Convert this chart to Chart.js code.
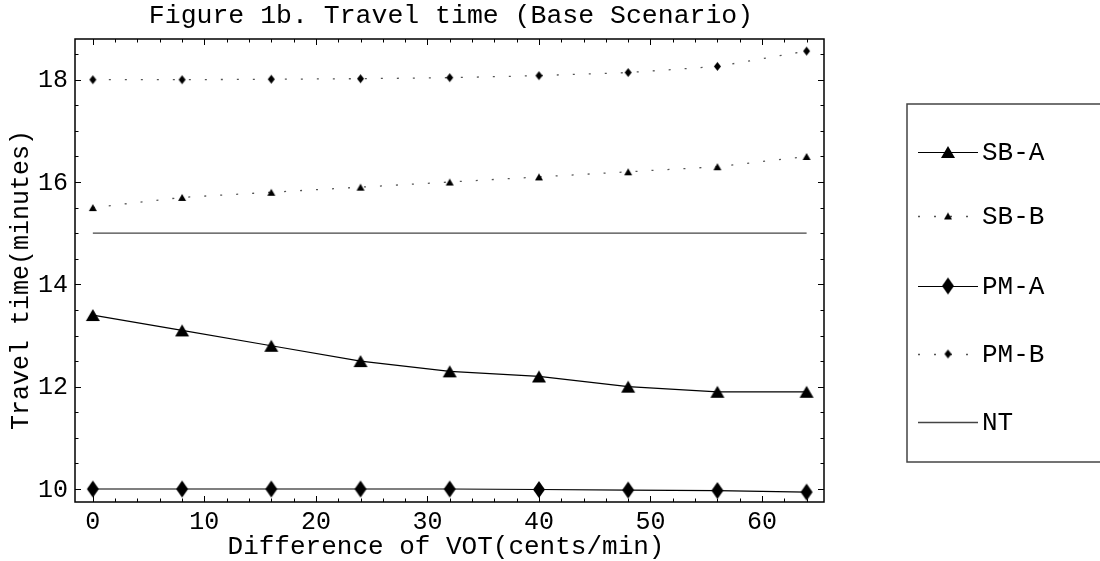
<!DOCTYPE html>
<html>
<head>
<meta charset="utf-8">
<script src="https://cdn.jsdelivr.net/npm/chart.js@4"></script>
<style>
  html, body { margin: 0; padding: 0; background: #fff; }
  #wrap { width: 1100px; height: 561px; }
</style>
</head>
<body>
<div id="wrap"><canvas id="c" width="1100" height="561"></canvas></div>
<script>
// ---- Data ----
const chartTitle = 'Figure 1b. Travel time (Base Scenario)';
const xTitle = 'Difference of VOT(cents/min)';
const yTitle = 'Travel time(minutes)';
const voTDiff = [0, 8, 16, 24, 32, 40, 48, 56, 64];
const sbA = [13.4, 13.1, 12.8, 12.5, 12.3, 12.2, 12.0, 11.9, 11.9];
const sbB = [15.5, 15.7, 15.8, 15.9, 16.0, 16.1, 16.2, 16.3, 16.5];
const pmA = [10.0, 10.0, 10.0, 10.0, 10.0, 9.99, 9.98, 9.97, 9.94];
const pmB = [18.0, 18.0, 18.01, 18.02, 18.04, 18.08, 18.14, 18.26, 18.56];
const nt  = [15, 15, 15, 15, 15, 15, 15, 15, 15];
const seriesNames = ['SB-A', 'SB-B', 'PM-A', 'PM-B', 'NT'];
const xTickValues = [0, 10, 20, 30, 40, 50, 60];
const yTickValues = [10, 12, 14, 16, 18];

const FONT = '"Liberation Mono", "Courier New", monospace';

// ---- Marker images ----
function makeMarker(kind, w, h) {
  const pad = 1;
  const c = document.createElement('canvas');
  c.width = w + pad * 2; c.height = h + pad * 2;
  const g = c.getContext('2d');
  g.fillStyle = '#000';
  g.beginPath();
  if (kind === 'tri') {
    g.moveTo(pad, pad + h); g.lineTo(pad + w / 2, pad); g.lineTo(pad + w, pad + h);
  } else {
    g.moveTo(pad + w / 2, pad); g.lineTo(pad + w, pad + h / 2);
    g.lineTo(pad + w / 2, pad + h); g.lineTo(pad, pad + h / 2);
  }
  g.closePath(); g.fill();
  return c;
}
const bigTri = makeMarker('tri', 14, 12);
const smallTri = makeMarker('tri', 8, 7);
const bigDia = makeMarker('dia', 12, 17);
const smallDia = makeMarker('dia', 7, 9);

function pts(arr) { return voTDiff.map((x, i) => ({ x: x, y: arr[i] })); }

const datasets = [
  { label: seriesNames[0], data: pts(sbA), borderColor: '#000', borderWidth: 1.2, pointStyle: bigTri, pointRadius: 8 },
  { label: seriesNames[1], data: pts(sbB), borderColor: '#555', borderWidth: 1.3, borderDash: [2, 14], pointStyle: smallTri, pointRadius: 5 },
  { label: seriesNames[2], data: pts(pmA), borderColor: '#000', borderWidth: 1.2, pointStyle: bigDia, pointRadius: 9 },
  { label: seriesNames[3], data: pts(pmB), borderColor: '#555', borderWidth: 1.3, borderDash: [2, 14], pointStyle: smallDia, pointRadius: 5 },
  { label: seriesNames[4], data: pts(nt), borderColor: '#444', borderWidth: 1.3, pointRadius: 0 }
];
datasets.forEach(d => { d.fill = false; d.tension = 0; d.backgroundColor = '#000'; d.pointHoverRadius = d.pointRadius; });

// ---- Custom drawing plugin: frame, inner ticks, labels, titles, legend ----
const decor = {
  id: 'decor',
  afterDraw(chart) {
    const ctx = chart.ctx;
    const a = chart.chartArea;
    const xs = chart.scales.x, ys = chart.scales.y;
    ctx.save();
    // frame
    ctx.strokeStyle = '#000'; ctx.lineWidth = 1.5;
    ctx.strokeRect(a.left, a.top, a.right - a.left, a.bottom - a.top);
    // ticks
    ctx.lineWidth = 1;
    ctx.beginPath();
    for (let v = 0; v <= 64; v += 2) {
      const px = Math.round(xs.getPixelForValue(v)) + 0.5;
      const len = (v % 10 === 0) ? 6 : 3.5;
      ctx.moveTo(px, a.bottom); ctx.lineTo(px, a.bottom - len);
      ctx.moveTo(px, a.top); ctx.lineTo(px, a.top + len);
    }
    for (let v = 10; v <= 18.5; v += 0.5) {
      const py = Math.round(ys.getPixelForValue(v)) + 0.5;
      const len = (v % 2 === 0) ? 6 : 3.5;
      ctx.moveTo(a.left, py); ctx.lineTo(a.left + len, py);
      ctx.moveTo(a.right, py); ctx.lineTo(a.right - len, py);
    }
    ctx.stroke();
    // tick labels
    ctx.fillStyle = '#000';
    ctx.font = '25px ' + FONT;
    ctx.textAlign = 'center'; ctx.textBaseline = 'middle';
    xs.ticks.forEach(t => ctx.fillText(String(t.value), xs.getPixelForValue(t.value), 522));
    ctx.textAlign = 'right';
    ys.ticks.forEach(t => ctx.fillText(String(t.value), 68, ys.getPixelForValue(t.value) + 1));
    // titles
    ctx.textAlign = 'center';
    ctx.font = '26.5px ' + FONT;
    ctx.fillText(chartTitle, 451, 16);
    ctx.font = '26px ' + FONT;
    ctx.fillText(xTitle, 446, 547);
    ctx.font = '25px ' + FONT;
    ctx.save();
    ctx.translate(21, 280); ctx.rotate(-Math.PI / 2);
    ctx.fillText(yTitle, 0, 0);
    ctx.restore();
    // legend box
    ctx.strokeStyle = '#444'; ctx.lineWidth = 1.5;
    ctx.strokeRect(907, 104, 220, 358);
    const rows = [152, 216, 286, 354, 422];
    chart.data.datasets.forEach((d, i) => {
      const y = rows[i];
      ctx.strokeStyle = d.borderColor; ctx.lineWidth = d.borderWidth;
      ctx.setLineDash(d.borderDash || []);
      ctx.beginPath();
      ctx.moveTo(918, y + 0.5); ctx.lineTo(978, y + 0.5);
      ctx.stroke();
      ctx.setLineDash([]);
      if (d.pointStyle && d.pointRadius) {
        const img = d.pointStyle;
        ctx.drawImage(img, 948 - img.width / 2, y - img.height / 2);
      }
      ctx.fillStyle = '#000'; ctx.textAlign = 'left'; ctx.textBaseline = 'middle';
      ctx.font = '26px ' + FONT;
      ctx.fillText(d.label, 982, y + 1);
    });
    ctx.restore();
  }
};

new Chart(document.getElementById('c'), {
  type: 'line',
  data: { datasets: datasets },
  options: {
    responsive: false,
    animation: false,
    events: [],
    layout: { padding: { top: 39, right: 276, left: 0, bottom: 0 } },
    plugins: { legend: { display: false }, title: { display: false }, tooltip: { enabled: false } },
    scales: {
      x: {
        type: 'linear', min: -1.6, max: 65.56,
        grid: { display: false }, border: { display: false },
        ticks: { display: false },
        afterBuildTicks: s => { s.ticks = xTickValues.map(v => ({ value: v })); },
        afterFit: s => { s.height = 59; }
      },
      y: {
        type: 'linear', min: 9.746, max: 18.796,
        grid: { display: false }, border: { display: false },
        ticks: { display: false },
        afterBuildTicks: s => { s.ticks = yTickValues.map(v => ({ value: v })); },
        afterFit: s => { s.width = 75; }
      }
    }
  },
  plugins: [decor]
});
</script>
</body>
</html>
